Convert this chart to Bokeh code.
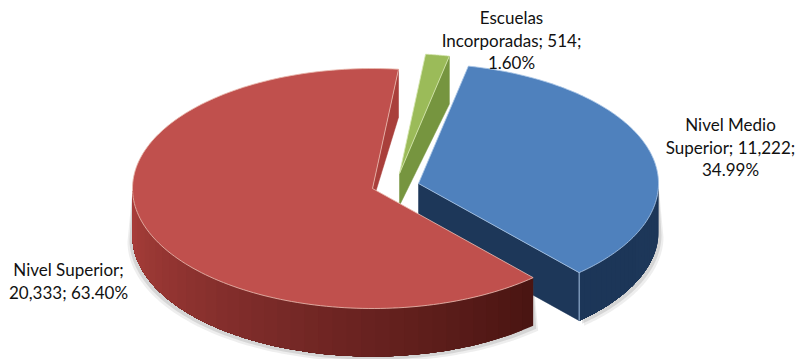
import numpy as np
from bokeh.plotting import figure
from bokeh.models import Range1d, ColumnDataSource
from bokeh.core.properties import value
from bokeh.embed import file_html
from bokeh.resources import INLINE

categories = ["Nivel Medio Superior", "Nivel Superior", "Escuelas Incorporadas"]
values = [11222, 20333, 514]
label_lines = [
    ["Nivel Medio", "Superior; 11,222;", "34.99%"],
    ["Nivel Superior;", "20,333; 63.40%"],
    ["Escuelas", "Incorporadas; 514;", "1.60%"],
]
top_colors = ["#4f81bd", "#c0504d", "#9bbb59"]
cut_colors = ["#1d3759", "#a93f3b", "#76953f"]
wall_ramps = [["#1d3759", "#1c3658"], ["#4a1512", "#7a2a28", "#ad403c"], ["#76953f", "#76953f"]]
seam_colors = ["#a9c5e6", "#e9b9ae", "#d5e6ae"]

# layout of the tilted pie, in page pixels
W, H = 797, 359
RX, RY, DEPTH = 240, 120, 48
START_DEG = 12
apexes = [(418, 183), (372, 188), (399, 173)]
label_anchor = [(730, 124), (68, 269), (511, 17)]
LINE_STEP = 22.7


def hex_rgb(c):
    return np.array([int(c[i:i + 2], 16) for i in (1, 3, 5)], float)


def ramp(colors, t):
    t = min(max(t, 0), 1) * (len(colors) - 1)
    i = min(int(t), len(colors) - 2)
    c = hex_rgb(colors[i]) * (1 - (t - i)) + hex_rgb(colors[i + 1]) * (t - i)
    return "#%02x%02x%02x" % tuple(int(round(v)) for v in c)


def pt(apex, deg, dy=0):
    a = np.radians(deg)
    return apex[0] + RX * np.sin(a), apex[1] - RY * np.cos(a) + dy


total = sum(values)
spans = [v / total * 360 for v in values]
starts = list(START_DEG + np.cumsum([0] + spans[:-1]))

p = figure(width=W, height=H, x_range=Range1d(0, W), y_range=Range1d(H, 0),
           output_backend="svg", toolbar_location=None, min_border=0)
p.axis.visible = False
p.grid.visible = False
p.outline_line_color = None
p.background_fill_color = "#ffffff"
p.border_fill_color = "#ffffff"


def draw_slice(i, apex_drop):
    apex, s, e = apexes[i], starts[i], starts[i] + spans[i]
    vis = [a for a in np.linspace(s, e, 200) if 90 <= a % 360 <= 270]
    # soft shadow around the outer wall
    if vis:
        for off, alpha in ((5, 0.10), (3, 0.16)):
            xs = [pt(apex, a, DEPTH)[0] + off * (1 if a < 180 else -1) for a in vis]
            ys = [pt(apex, a, DEPTH)[1] + off for a in vis]
            xs2 = [pt(apex, a, 0)[0] for a in vis]
            ys2 = [pt(apex, a, 0)[1] for a in vis]
            p.patch(xs + xs2[::-1], ys + ys2[::-1], fill_color="#555555", fill_alpha=alpha, line_color=None)

    # cut face
    a = pt(apex, e)
    b = pt(apex, e, DEPTH)
    c = (apex[0] + apex_drop[0], apex[1] + apex_drop[1])
    p.patch([apex[0], a[0], b[0], c[0]], [apex[1], a[1], b[1], c[1]],
            fill_color=cut_colors[i], line_color=cut_colors[i], line_width=0.5)

    # outer wall: each strip runs to the wall's end and is overpainted by the next
    if vis:
        n = len(vis)
        for k in range(0, n - 1, 3):
            rest = vis[k:]
            top = [pt(apex, a_) for a_ in rest]
            low = [pt(apex, a_, DEPTH) for a_ in rest]
            t = k / (n - 1)
            col = ramp(wall_ramps[i], t)
            p.patch([q[0] for q in top] + [q[0] for q in low[::-1]],
                    [q[1] for q in top] + [q[1] for q in low[::-1]],
                    fill_color=col, line_color=None)

    # top face
    arc = [pt(apex, a_) for a_ in np.linspace(s, e, 160)]
    xs = [apex[0]] + [q[0] for q in arc]
    ys = [apex[1]] + [q[1] for q in arc]
    p.patch(xs, ys, fill_color=top_colors[i], line_color=seam_colors[i], line_width=1, line_alpha=0.85)


# back to front: green, blue, red
draw_slice(2, (0, 32))
draw_slice(0, (0, DEPTH))
c0 = pt(apexes[0], starts[0] + spans[0])
c1 = pt(apexes[0], starts[0] + spans[0], DEPTH)
p.line([c0[0], c1[0]], [c0[1], c1[1]], line_color=seam_colors[0], line_width=1)
draw_slice(1, (3, 4))

tx, ty, tt = [], [], []
for lines, (cx, cy) in zip(label_lines, label_anchor):
    for k, line in enumerate(lines):
        tx.append(cx)
        ty.append(cy + k * LINE_STEP)
        tt.append(line)
src = ColumnDataSource(dict(x=tx, y=ty, t=tt))
p.text("x", "y", text="t", source=src, text_font=value("Lato"), text_font_size="17px",
       text_color="#111111", text_align="center", text_baseline="middle")

open("out.html", "w").write(file_html(p, INLINE))
